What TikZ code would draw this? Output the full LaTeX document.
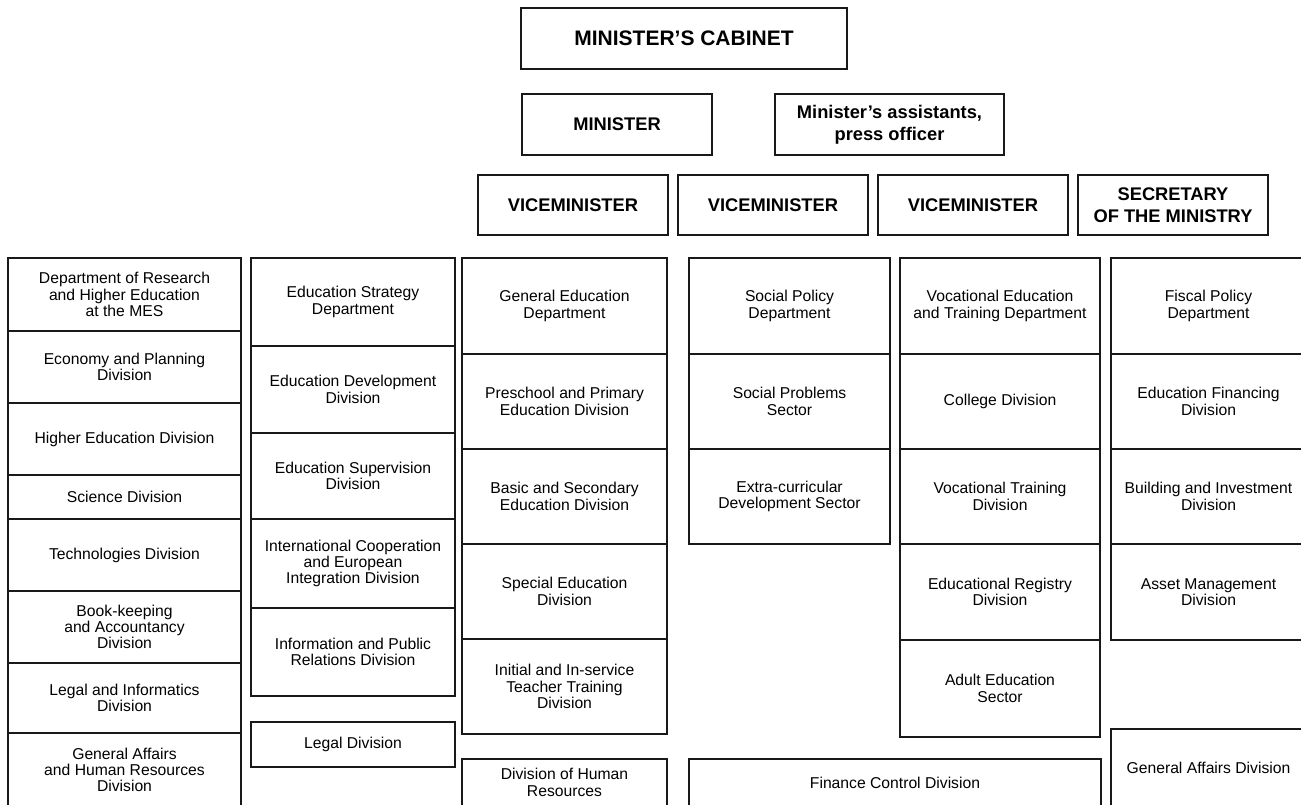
\documentclass[tikz,border=0pt]{standalone}
\usepackage{fontspec}
\setmainfont{Liberation Sans}
\usepackage{tikz}
\usetikzlibrary{positioning}

\begin{document}
\begin{tikzpicture}[
  x=1pt, y=-1pt,
  every node/.style={font=\fontsize{15.7}{16.3}\selectfont},
  unit/.style={draw=black!90, line width=1.3pt, outer sep=0pt, inner sep=1pt,
    align=center, anchor=north west, text=black},
  head/.style={unit, minimum width=190pt, minimum height=60pt,
    font=\bfseries\fontsize{18.3}{22}\selectfont},
  cabhead/.style={unit, font=\bfseries\fontsize{21}{23}\selectfont}
]
  \useasboundingbox (0,0) rectangle (1301,804);
  \clip (0,0) rectangle (1301,804);

  % Cabinet and minister
  \node[cabhead, minimum width=326pt, minimum height=61pt] (cab) at (521,8)
    {MINISTER'S CABINET};
  \node[head, minimum height=61pt] (min) at (522,94) {MINISTER};
  \node[head, minimum width=229pt, minimum height=61pt] (asst) at (775,94)
    {Minister's assistants,\\press officer};

  % Vice-ministers and secretary
  \node[head] (vm1) at (478,175) {VICEMINISTER};
  \node[head, right=10pt of vm1] (vm2) {VICEMINISTER};
  \node[head, right=10pt of vm2] (vm3) {VICEMINISTER};
  \node[head, right=10pt of vm3] (sec) {SECRETARY\\OF THE MINISTRY};

  % Column 1
  \begin{scope}[every node/.append style={unit, minimum width=233pt}]
    \node[minimum height=73pt] (res) at (8,258)
      {Department of Research\\and Higher Education\\at the MES};
    \node[below=0pt of res, minimum height=72pt] (econ)
      {Economy and Planning\\Division};
    \node[below=0pt of econ, minimum height=72pt] (hed)
      {Higher Education Division};
    \node[below=0pt of hed, minimum height=44pt] (sci) {Science Division};
    \node[below=0pt of sci, minimum height=72pt] (tech)
      {Technologies Division};
    \node[below=0pt of tech, minimum height=72pt] (book)
      {Book-keeping\\and Accountancy\\Division};
    \node[below=0pt of book, minimum height=70pt] (legi)
      {Legal and Informatics\\Division};
    \node[below=0pt of legi, minimum height=74pt] (gahr)
      {General Affairs\\and Human Resources\\Division};
  \end{scope}

  % Column 2
  \begin{scope}[every node/.append style={unit, minimum width=204pt}]
    \node[minimum height=88pt] (strat) at (251,258)
      {Education Strategy\\Department};
    \node[below=0pt of strat, minimum height=87pt] (edev)
      {Education Development\\Division};
    \node[below=0pt of edev, minimum height=86pt] (esup)
      {Education Supervision\\Division};
    \node[below=0pt of esup, minimum height=89pt] (intc)
      {International Cooperation\\and European\\Integration Division};
    \node[below=0pt of intc, minimum height=88pt] (info)
      {Information and Public\\Relations Division};
    \node[minimum height=45pt] (legal) at (251,722) {Legal Division};
  \end{scope}

  % Column 3
  \begin{scope}[every node/.append style={unit, minimum width=205pt}]
    \node[minimum height=96pt] (gen) at (462,258)
      {General Education\\Department};
    \node[below=0pt of gen, minimum height=95pt] (presc)
      {Preschool and Primary\\Education Division};
    \node[below=0pt of presc, minimum height=95pt] (basic)
      {Basic and Secondary\\Education Division};
    \node[below=0pt of basic, minimum height=95pt] (spec)
      {Special Education\\Division};
    \node[below=0pt of spec, minimum height=95pt] (teach)
      {Initial and In-service\\Teacher Training\\Division};
    \node[minimum height=47pt] (hres) at (462,759)
      {Division of Human\\Resources};
  \end{scope}

  % Column 4
  \begin{scope}[every node/.append style={unit, minimum width=201pt}]
    \node[minimum height=96pt] (socp) at (689,258)
      {Social Policy\\Department};
    \node[below=0pt of socp, minimum height=95pt] (socpr)
      {Social Problems\\Sector};
    \node[below=0pt of socpr, minimum height=95pt] (extra)
      {Extra-curricular\\Development Sector};
  \end{scope}
  \node[unit, minimum width=412pt, minimum height=47pt] (finc) at (689,759)
    {Finance Control Division};

  % Column 5
  \begin{scope}[every node/.append style={unit, minimum width=200pt}]
    \node[minimum height=96pt] (voc) at (900,258)
      {Vocational Education\\and Training Department};
    \node[below=0pt of voc, minimum height=95pt] (coll) {College Division};
    \node[below=0pt of coll, minimum height=95pt] (vtr)
      {Vocational Training\\Division};
    \node[below=0pt of vtr, minimum height=96pt] (reg)
      {Educational Registry\\Division};
    \node[below=0pt of reg, minimum height=97pt] (adult)
      {Adult Education\\Sector};
  \end{scope}

  % Column 6
  \begin{scope}[every node/.append style={unit, minimum width=195pt}]
    \node[minimum height=96pt] (fisc) at (1111,258)
      {Fiscal Policy\\Department};
    \node[below=0pt of fisc, minimum height=95pt] (efin)
      {Education Financing\\Division};
    \node[below=0pt of efin, minimum height=95pt] (build)
      {Building and Investment\\Division};
    \node[below=0pt of build, minimum height=96pt] (asset)
      {Asset Management\\Division};
    \node[minimum height=77pt] (gaff) at (1111,729)
      {General Affairs Division};
  \end{scope}
\end{tikzpicture}
\end{document}
